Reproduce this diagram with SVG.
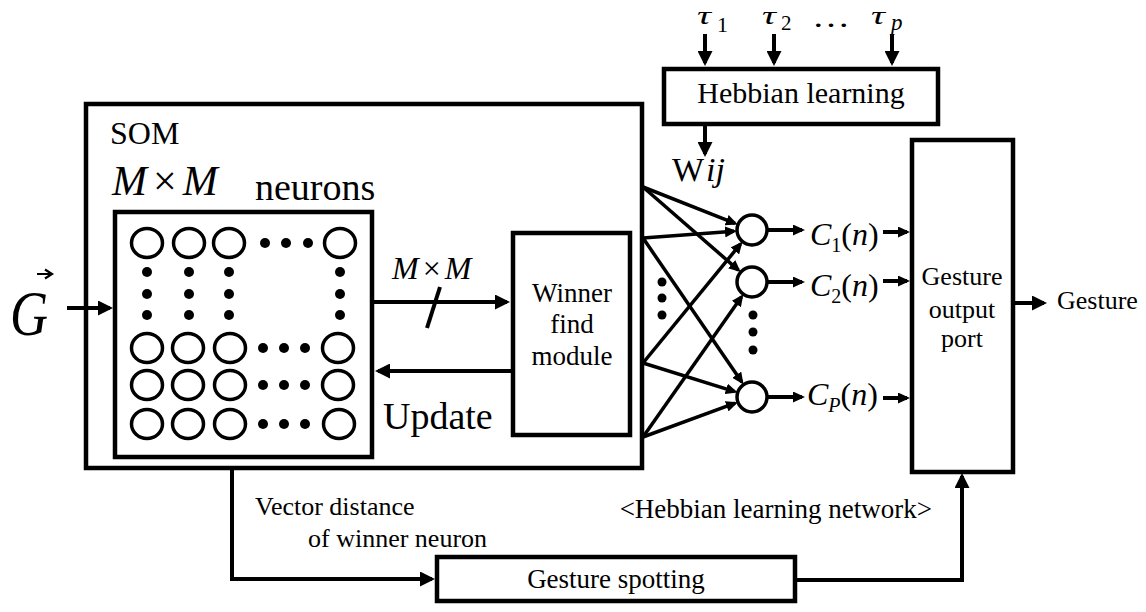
<svg xmlns="http://www.w3.org/2000/svg" width="1146" height="612" viewBox="0 0 1146 612">
<style>
.box{fill:#fff;stroke:#000;stroke-width:4.5}
.neu{fill:none;stroke:#000;stroke-width:3.5}
.dot{fill:#000}
.t{font-family:"Liberation Serif","Times New Roman",serif;fill:#000}
.c{text-anchor:middle}
.i{font-style:italic}
.ln{fill:none;stroke:#000;stroke-width:4}
.fan{fill:none;stroke:#000;stroke-width:3.5}
</style>
<defs>
<marker id="ah" markerUnits="userSpaceOnUse" viewBox="0 0 15 15" refX="12" refY="7.5" markerWidth="15" markerHeight="15" orient="auto"><path d="M0,0 L15,7.5 L0,15 z" fill="#000"/></marker>
<marker id="as" markerUnits="userSpaceOnUse" viewBox="0 0 12 11" refX="9" refY="5.5" markerWidth="12" markerHeight="11" orient="auto"><path d="M0,0 L12,5.5 L0,11 z" fill="#000"/></marker>
</defs>
<rect width="1146" height="612" fill="#fff"/>

<g id="som">
<rect class="box" x="86" y="104" width="556" height="364"/>
<text class="t" x="110" y="144" font-size="32">SOM</text>
<text class="t" x="112" y="195" font-size="42"><tspan class="i">M</tspan><tspan dx="6">×</tspan><tspan class="i" dx="6">M</tspan></text>
<text class="t" x="255" y="200" font-size="38">neurons</text>
</g>

<g id="neuron-grid">
<rect class="box" x="115" y="212" width="257" height="245"/>
<g class="neu">
<ellipse cx="147" cy="243" rx="15.5" ry="14.5"/><ellipse cx="189" cy="243" rx="15.5" ry="14.5"/><ellipse cx="229" cy="243" rx="15.5" ry="14.5"/><ellipse cx="340" cy="243" rx="15.5" ry="14.5"/>
<ellipse cx="147" cy="348" rx="15.5" ry="14.5"/><ellipse cx="188" cy="348" rx="15.5" ry="14.5"/><ellipse cx="230" cy="348" rx="15.5" ry="14.5"/><ellipse cx="338" cy="348" rx="15.5" ry="14.5"/>
<ellipse cx="147" cy="385" rx="15.5" ry="14.5"/><ellipse cx="188" cy="385" rx="15.5" ry="14.5"/><ellipse cx="230" cy="385" rx="15.5" ry="14.5"/><ellipse cx="338" cy="385" rx="15.5" ry="14.5"/>
<ellipse cx="147" cy="424" rx="15.5" ry="14.5"/><ellipse cx="188" cy="424" rx="15.5" ry="14.5"/><ellipse cx="230" cy="424" rx="15.5" ry="14.5"/><ellipse cx="339" cy="424" rx="15.5" ry="14.5"/>
</g>
<g class="dot">
<circle cx="265" cy="243" r="5"/><circle cx="286" cy="243" r="5"/><circle cx="308" cy="243" r="5"/>
<circle cx="263" cy="348" r="5"/><circle cx="284" cy="348" r="5"/><circle cx="305" cy="348" r="5"/>
<circle cx="263" cy="385" r="5"/><circle cx="284" cy="385" r="5"/><circle cx="305" cy="385" r="5"/>
<circle cx="263" cy="424" r="5"/><circle cx="284" cy="424" r="5"/><circle cx="305" cy="424" r="5"/>
<circle cx="147" cy="272" r="5"/><circle cx="147" cy="294" r="5"/><circle cx="147" cy="315" r="5"/>
<circle cx="189" cy="272" r="5"/><circle cx="189" cy="294" r="5"/><circle cx="189" cy="315" r="5"/>
<circle cx="229" cy="272" r="5"/><circle cx="229" cy="294" r="5"/><circle cx="229" cy="315" r="5"/>
<circle cx="340" cy="272" r="5"/><circle cx="340" cy="294" r="5"/><circle cx="340" cy="315" r="5"/>
</g>
</g>

<g id="input-g">
<text class="t i" x="10" y="335" font-size="64" textLength="38" lengthAdjust="spacingAndGlyphs">G</text>
<path d="M37,274 H50 M45,269.5 L52,274 L45,278.5" fill="none" stroke="#000" stroke-width="2.2"/>
</g>

<g id="winner">
<rect class="box" x="513" y="233" width="117" height="202"/>
<text class="t c" x="572" y="302" font-size="27">Winner</text>
<text class="t c" x="572" y="333" font-size="27">find</text>
<text class="t c" x="572" y="365" font-size="27">module</text>
</g>

<g id="hebbian">
<rect class="box" x="664" y="69" width="274" height="55"/>
<text class="t c" x="801" y="103" font-size="30">Hebbian learning</text>
</g>

<g id="taus">
<text class="t i" transform="translate(697,24) scale(1.5,1)" font-size="26">τ</text><text class="t" x="717" y="32" font-size="22">1</text>
<text class="t i" transform="translate(762,24) scale(1.5,1)" font-size="26">τ</text><text class="t" x="781" y="30" font-size="21">2</text>
<text class="t" x="812" y="27" font-size="29" textLength="38" lengthAdjust="spacingAndGlyphs">…</text>
<text class="t i" transform="translate(871,24) scale(1.5,1)" font-size="26">τ</text><text class="t i" x="891" y="30" font-size="23">p</text>
</g>

<g id="wij">
<text class="t" x="672" y="181" font-size="34">W<tspan class="i" dx="2">ij</tspan></text>
</g>

<g id="output-neurons">
<circle class="neu" cx="752" cy="230" r="15"/>
<circle class="neu" cx="752" cy="282" r="15"/>
<circle class="neu" cx="752" cy="397" r="15"/>
<g class="dot">
<circle cx="753" cy="315" r="4.5"/><circle cx="753" cy="332" r="4.5"/><circle cx="753" cy="350" r="4.5"/>
<circle cx="662" cy="282" r="4.5"/><circle cx="662" cy="298" r="4.5"/><circle cx="662" cy="315" r="4.5"/>
</g>
</g>

<g id="c-labels">
<text class="t" x="810" y="245" font-size="32"><tspan class="i">C</tspan><tspan font-size="20" dy="7">1</tspan><tspan dy="-7">(</tspan><tspan class="i">n</tspan>)</text>
<text class="t" x="810" y="296" font-size="32"><tspan class="i">C</tspan><tspan font-size="20" dy="7">2</tspan><tspan dy="-7">(</tspan><tspan class="i">n</tspan>)</text>
<text class="t" x="807" y="405" font-size="32"><tspan class="i">C</tspan><tspan class="i" font-size="20" dy="7">P</tspan><tspan dy="-7">(</tspan><tspan class="i">n</tspan>)</text>
</g>

<g id="port">
<rect class="box" x="912" y="140" width="101" height="332"/>
<text class="t c" x="962" y="285" font-size="26">Gesture</text>
<text class="t c" x="962" y="318" font-size="26">output</text>
<text class="t c" x="962" y="347" font-size="26">port</text>
</g>

<g id="gesture-out">
<text class="t" x="1057" y="309" font-size="26">Gesture</text>
</g>

<g id="spotting">
<rect class="box" x="437" y="557" width="358" height="44"/>
<text class="t c" x="616" y="588" font-size="27">Gesture spotting</text>
</g>

<g id="labels">
<text class="t" x="392" y="279" font-size="32"><tspan class="i">M</tspan><tspan dx="4">×</tspan><tspan class="i" dx="4">M</tspan></text>
<text class="t" x="383" y="429" font-size="38">Update</text>
<text class="t" x="255" y="515" font-size="26">Vector distance</text>
<text class="t" x="308" y="547" font-size="26">of winner neuron</text>
<text class="t" x="932" y="518" font-size="27" text-anchor="end">&lt;Hebbian learning network&gt;</text>
</g>

<g id="connectors">
<path class="ln" d="M67,308 H110" marker-end="url(#ah)"/>
<path class="ln" d="M374,302 H507" marker-end="url(#ah)"/>
<path class="ln" d="M440,287 L427,328"/>
<path class="ln" d="M511,371 H378" marker-end="url(#ah)"/>
<path class="ln" d="M705,34 V63" marker-end="url(#ah)"/>
<path class="ln" d="M774,34 V63" marker-end="url(#ah)"/>
<path class="ln" d="M892,34 V63" marker-end="url(#ah)"/>
<path class="ln" d="M705,126 V154" marker-end="url(#ah)"/>
<path class="fan" d="M643,187 L735,223.4" marker-end="url(#as)"/>
<path class="fan" d="M643,187 L738.4,270.1" marker-end="url(#as)"/>
<path class="fan" d="M643,238 L734,231.3" marker-end="url(#as)"/>
<path class="fan" d="M643,238 L741.8,382.1" marker-end="url(#as)"/>
<path class="fan" d="M643,363 L740.6,243.9" marker-end="url(#as)"/>
<path class="fan" d="M643,363 L734.8,391.6" marker-end="url(#as)"/>
<path class="fan" d="M643,437 L741.6,296.7" marker-end="url(#as)"/>
<path class="fan" d="M643,437 L735.1,403.2" marker-end="url(#as)"/>
<path class="ln" d="M767,230 H802" marker-end="url(#as)"/>
<path class="ln" d="M767,282 H802" marker-end="url(#as)"/>
<path class="ln" d="M767,397 H802" marker-end="url(#as)"/>
<path class="ln" d="M883,232 H907" marker-end="url(#as)"/>
<path class="ln" d="M883,281 H907" marker-end="url(#as)"/>
<path class="ln" d="M883,398 H907" marker-end="url(#as)"/>
<path class="ln" d="M1015,303 H1044" marker-end="url(#ah)"/>
<path class="ln" d="M232,468 V579 H432" marker-end="url(#ah)"/>
<path class="ln" d="M797,580 H962 V476" marker-end="url(#ah)"/>
</g>
</svg>
